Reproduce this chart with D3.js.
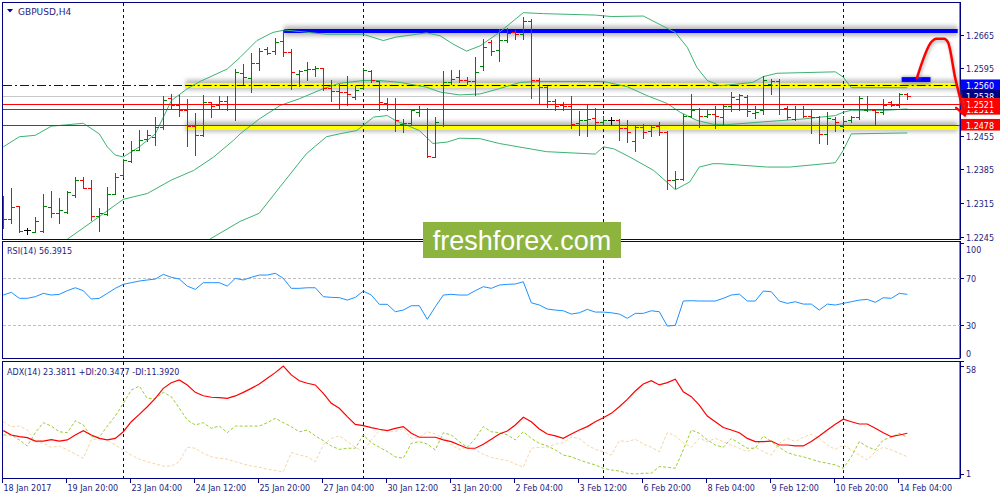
<!DOCTYPE html>
<html><head><meta charset="utf-8">
<script src="https://cdn.jsdelivr.net/npm/d3@7"></script>
<style>
html,body{margin:0;padding:0;background:#fff;}
svg{display:block;font-family:"DejaVu Sans",Verdana,sans-serif;}
</style></head><body>
<svg id="c" width="1000" height="500"></svg>
<script>
// ---------------- DATA ----------------
const symbolTitle = "GBPUSD,H4";
const rsiTitle = "RSI(14) 56.3915";
const adxTitle = "ADX(14) 23.3811 +DI:20.3477 -DI:11.3920";
const dateLabels = ["18 Jan 2017","19 Jan 20:00","23 Jan 04:00","24 Jan 12:00","25 Jan 20:00","27 Jan 04:00","30 Jan 12:00","31 Jan 20:00","2 Feb 04:00","3 Feb 12:00","6 Feb 20:00","8 Feb 04:00","9 Feb 12:00","10 Feb 20:00","14 Feb 04:00"];
const dateTickBars = [0,8,16,24,32,40,48,56,64,72,80,88,96,104,112];
const weekSeparators = [15,45,75,105];

const open = [1.2328,1.2282,1.2310,1.2259,1.2256,1.2257,1.2308,1.2295,1.2297,1.2332,
1.2363,1.2347,1.2288,1.2293,1.2335,1.2373,1.2403,1.2426,1.2449,1.2453,
1.2473,1.2534,1.2518,1.2508,1.2475,1.2456,1.2525,1.2518,1.2528,1.2511,
1.2585,1.2575,1.2606,1.2635,1.2631,1.2653,1.2630,1.2584,1.2591,1.2594,
1.2596,1.2555,1.2548,1.2546,1.2535,1.2555,1.2589,1.2568,1.2524,1.2522,
1.2479,1.2481,1.2504,1.2511,1.2411,1.2477,1.2566,1.2578,1.2572,1.2568,
1.2601,1.2649,1.2633,1.2654,1.2670,1.2666,1.2694,1.2570,1.2557,1.2527,
1.2518,1.2516,1.2481,1.2488,1.2493,1.2484,1.2488,1.2488,1.2472,1.2444,
1.2473,1.2466,1.2475,1.2463,1.2364,1.2366,1.2497,1.2511,1.2496,1.2500,
1.2495,1.2516,1.2532,1.2535,1.2502,1.2508,1.2563,1.2568,1.2513,1.2490,
1.2511,1.2497,1.2495,1.2459,1.2490,1.2475,1.2488,1.2494,1.2508,1.2509,
1.2504,1.2525,1.2518,1.2541];
const high = [1.2330,1.2346,1.2310,1.2264,1.2287,1.2333,1.2340,1.2325,1.2340,1.2370,
1.2370,1.2364,1.2304,1.2348,1.2377,1.2406,1.2444,1.2468,1.2468,1.2494,
1.2537,1.2542,1.2540,1.2531,1.2502,1.2540,1.2526,1.2537,1.2537,1.2594,
1.2604,1.2628,1.2637,1.2639,1.2658,1.2675,1.2635,1.2592,1.2609,1.2601,
1.2597,1.2571,1.2563,1.2580,1.2559,1.2597,1.2592,1.2568,1.2533,1.2534,
1.2490,1.2511,1.2516,1.2513,1.2494,1.2589,1.2591,1.2591,1.2577,1.2618,
1.2656,1.2654,1.2677,1.2679,1.2675,1.2702,1.2697,1.2575,1.2559,1.2532,
1.2525,1.2537,1.2506,1.2518,1.2513,1.2497,1.2494,1.2490,1.2487,1.2475,
1.2479,1.2477,1.2484,1.2466,1.2382,1.2501,1.2542,1.2513,1.2509,1.2516,
1.2520,1.2547,1.2542,1.2539,1.2516,1.2580,1.2573,1.2573,1.2516,1.2516,
1.2516,1.2508,1.2497,1.2504,1.2494,1.2497,1.2497,1.2537,1.2537,1.2511,
1.2531,1.2528,1.2544,1.2544];
const low = [1.2263,1.2274,1.2255,1.2250,1.2255,1.2255,1.2287,1.2274,1.2294,1.2327,
1.2346,1.2280,1.2258,1.2290,1.2333,1.2370,1.2401,1.2425,1.2444,1.2435,
1.2470,1.2513,1.2497,1.2433,1.2416,1.2454,1.2495,1.2510,1.2508,1.2488,
1.2563,1.2546,1.2591,1.2625,1.2625,1.2620,1.2553,1.2559,1.2571,1.2580,
1.2551,1.2528,1.2513,1.2520,1.2532,1.2553,1.2566,1.2508,1.2508,1.2465,
1.2463,1.2480,1.2497,1.2411,1.2410,1.2475,1.2563,1.2566,1.2563,1.2539,
1.2592,1.2622,1.2610,1.2651,1.2656,1.2656,1.2533,1.2523,1.2515,1.2508,
1.2509,1.2472,1.2456,1.2454,1.2470,1.2479,1.2480,1.2447,1.2442,1.2424,
1.2451,1.2454,1.2456,1.2344,1.2346,1.2363,1.2494,1.2473,1.2494,1.2472,
1.2477,1.2506,1.2509,1.2497,1.2492,1.2501,1.2541,1.2501,1.2490,1.2487,
1.2494,1.2461,1.2439,1.2437,1.2464,1.2473,1.2484,1.2490,1.2506,1.2477,
1.2501,1.2516,1.2515,1.2531];
const close = [1.2282,1.2308,1.2257,1.2259,1.2277,1.2310,1.2294,1.2301,1.2339,1.2363,
1.2347,1.2288,1.2294,1.2333,1.2370,1.2404,1.2425,1.2447,1.2456,1.2473,
1.2530,1.2518,1.2508,1.2475,1.2456,1.2525,1.2516,1.2528,1.2511,1.2587,
1.2577,1.2606,1.2632,1.2628,1.2651,1.2630,1.2587,1.2589,1.2594,1.2597,
1.2555,1.2548,1.2546,1.2541,1.2551,1.2591,1.2571,1.2525,1.2522,1.2487,
1.2481,1.2509,1.2511,1.2413,1.2484,1.2566,1.2573,1.2570,1.2568,1.2587,
1.2639,1.2632,1.2654,1.2668,1.2666,1.2694,1.2570,1.2557,1.2527,1.2516,
1.2516,1.2479,1.2488,1.2490,1.2484,1.2488,1.2488,1.2472,1.2463,1.2473,
1.2463,1.2473,1.2463,1.2364,1.2366,1.2497,1.2508,1.2497,1.2500,1.2497,
1.2516,1.2535,1.2539,1.2506,1.2504,1.2570,1.2568,1.2511,1.2494,1.2511,
1.2497,1.2495,1.2458,1.2493,1.2484,1.2486,1.2495,1.2534,1.2511,1.2504,
1.2520,1.2518,1.2541,1.2538];

// Bollinger bands: [bar index, price]
const bbUpper = [[0,1.2432],[2,1.2453],[4,1.2456],[6,1.2475],[10,1.2481],[12,1.2459],[13,1.2432],[14,1.2415],[15,1.2411],[17,1.2432],[19,1.2459],[21,1.2528],[23,1.2553],[24.6,1.2568],[28,1.2594],[29.6,1.2618],[31.7,1.2653],[33.7,1.2670],[35.2,1.2675],[40.4,1.2666],[45,1.2666],[47.5,1.2653],[49,1.2660],[52.9,1.2669],[54.6,1.2663],[56.2,1.2646],[57.9,1.2631],[59.6,1.2642],[62,1.2670],[65,1.2711],[67.5,1.2709],[74,1.2706],[76,1.2703],[80,1.2704],[82,1.2687],[84,1.2670],[85.5,1.2639],[86.7,1.2597],[88,1.2570],[89.6,1.2559],[93.7,1.2566],[95,1.2578],[96.7,1.2585],[104,1.2588],[105,1.2577],[106,1.2555],[113,1.2555]];
const bbMiddle = [[8,1.2240],[12,1.2287],[15,1.2323],[18,1.2335],[21,1.2363],[23.8,1.2383],[26.3,1.2411],[28.8,1.2446],[29.6,1.2459],[32,1.2490],[34.6,1.2518],[37,1.2532],[40,1.2553],[42,1.2564],[45,1.2570],[47,1.2570],[49.6,1.2566],[52.9,1.2556],[54.6,1.2546],[57,1.2540],[59.6,1.2542],[62,1.2553],[64.6,1.2566],[67,1.2568],[75,1.2568],[78,1.2557],[80.4,1.2539],[83,1.2522],[84.6,1.2504],[86.7,1.2487],[88.7,1.2479],[90.4,1.2478],[95,1.2484],[100,1.2490],[104,1.2497],[105,1.2504],[106,1.2508],[110.4,1.2508],[113,1.2511]];
const bbLower = [[25.8,1.2240],[29.6,1.2277],[32,1.2294],[34.6,1.2349],[37.9,1.2418],[40.4,1.2453],[42,1.2459],[44.2,1.2466],[45,1.2477],[46.3,1.2494],[48,1.2497],[49,1.2487],[52,1.2466],[53.7,1.2439],[55.5,1.2442],[57,1.2450],[59.6,1.2449],[62,1.2439],[67.9,1.2422],[74,1.2417],[75,1.2432],[76.3,1.2428],[78.3,1.2411],[81.3,1.2383],[84,1.2343],[85.8,1.2359],[87,1.2390],[88.7,1.2397],[89.6,1.2397],[95.5,1.2390],[98.3,1.2390],[104,1.2399],[105,1.2425],[106,1.2459],[113,1.2461]];

const rsi = [55.8,58.1,53,53,54.4,57.2,55.8,56.4,59.5,62,
59.5,52.4,53,57.2,61.5,64.9,66.3,67.7,68.6,69.4,
73.4,70.9,69.4,63.4,60.6,66.3,66.3,66.3,63.4,70,
68.6,70.9,72.8,72.8,74.3,70,61.5,61.5,62,62,
54.4,53.8,53.6,51.5,53.8,59.2,55.8,47.9,47.9,41.6,
43,46.7,46.7,35.1,45.8,55.8,56.4,55.8,55.8,59.5,
62.9,61.5,64.3,64.9,65.2,67.1,49.2,47.3,43.9,43,
42.4,39.6,40.7,43.6,41.3,41.3,40.7,39.6,36,40.2,
40.2,42.4,41.6,29.4,30,50.7,51,50.7,50.7,50.7,
53,55.8,56.6,50.7,50.7,59.2,58.6,50.7,48.7,50.1,
48.1,48.1,43,48.1,47.3,48.7,50.1,51.5,52.1,49.6,
53.5,53,57.2,56.4];
const adx = [23.9,21.6,20.7,20.2,18.4,18.4,19.1,18.4,19,21.6,
23.9,21.6,19.8,19,19.8,23.3,28.6,32.5,36.5,40.9,
46.2,49.2,50.6,48,44.1,42.3,41.5,41.3,40.9,42.2,
44.1,46.2,48.5,51.5,54.5,58,53.3,50.2,48.9,48,
43.6,38.3,35.7,31.3,27.2,26.5,25.5,24.6,23.9,25.1,
26,22.5,20.4,20.4,20.4,19,18.1,16.3,14.6,14.6,
16.7,19.3,22.1,23.7,26.9,30.9,28.6,24.8,22.1,21.1,
19.8,22.1,24.2,26,28.6,30.7,33,36.5,40.4,44.8,
48.5,50.2,48,49.2,51,44.4,41.8,37.4,31.6,28.6,
25.5,24.2,22.8,19.8,18.1,18.1,18.4,16.3,16.3,15.8,
15.8,18.1,21.1,24.2,27.2,29.9,28.6,27.4,27.4,25.1,
22.8,20.7,21.6,22.5];
const plusDI = [21.6,21.6,19,15.8,22.8,28.1,26.3,23.3,22.8,29.1,
26.9,20.7,20.4,26.3,31.6,38.3,45.3,47.4,40.9,40.9,
44.1,41.8,35.7,29.5,26.9,28.1,25.1,26.3,22.8,26.3,
26.3,26.3,26.3,28.1,30.4,28.1,26,23.3,24.2,21.1,
18.6,15.8,14,14.6,14.6,21.6,17.5,15.1,12.8,10.1,
9.3,17.2,18.1,16.8,13.7,22.8,21.6,18.1,15.1,19.8,
26,23.3,22.8,21.6,19,23.3,19.8,17.2,15.8,13.7,
11,10.1,8.4,7,5.8,4,3.1,2.6,1.4,1.0,
1.4,1.4,4.9,4.6,4,13.7,24.2,22.5,19,16.3,
15.1,19.8,17.2,14.6,14.6,21.1,18.1,15.1,12.3,11,
10.1,8.8,7.5,6.7,5.8,4,10.1,18.1,15.4,13.7,
19,20.4,22.5,20.4];
const minusDI = [28.6,26,26.3,24.2,18.1,17.2,15.1,15.8,13.7,11.6,
9.3,19,19.8,19,16.3,13.7,11,8.8,7.5,6.3,
5.2,5.2,7.5,15.1,14.6,11.9,10.1,9.3,8.8,7.5,
6.3,5.2,4.6,3.5,2.8,2.2,12.3,11,10.1,7.5,
16.3,19.8,21.1,18.1,15.1,12.8,19,23.9,23.9,23.3,
25.1,19.8,20.4,23.3,22.1,19.8,16.3,14,15.1,13.7,
11.4,9.8,8.8,8.1,6.3,4.6,14.6,15.1,15.1,16.8,
17.5,20.4,19.8,16.3,14,12.8,11,18.6,18.1,19.3,
16.8,15.1,12.8,22.8,21.1,17.5,15.1,19.8,18.1,19.8,
18.1,16.3,14.6,12.8,15.1,12.8,11,17.2,19.8,18.1,
20.4,22.1,19.8,16.3,14,16.3,13.7,11,8.4,12.8,
15.1,13.7,11.9,10.1];

const priceTicks = [1.2665,1.2595,1.2525,1.2455,1.2385,1.2315,1.2245];
const rsiTicks = [100,70,30,0];
const rsiLevels = [70,30];
const adxTicks = [58,1];

// drawn objects (bar index / price units)
const bidPrice = 1.2538;
const dashLevel = 1.2560;
const redLevels = [1.2521,1.2511,1.2478];
const yellowZones = [[22.8,119.3,1.2561],[22.8,119.3,1.2474]];
const blueZone = [35.1,119.3,1.2673];
const blueBox = [112.3,115.9,1.2577,1.2567];
const arrowPath = [[114.2,1.2575],[116.0,1.2650],[116.6,1.2657],[117.6,1.2657],[118.1,1.2649],[119.0,1.2574],[120.2,1.2498]];
const arrowHead = [[[119.1,1.2513],[120.2,1.2498]],[[120.2,1.2498],[120.5,1.2522]]];
const priceMarkers = [["1.2560",1.2560],["1.2538",1.2538],["1.2511",1.2511],["1.2521",1.2521],["1.2478",1.2478]];
const markerColors = ["#0000ff","#000080","#ff0000","#ff0000","#ff0000"];

// ---------------- DRAW ----------------
const NAVY = "#000080", TXT = "#1c1c80";
const svg = d3.select("#c");
const defs = svg.append("defs");
defs.append("clipPath").attr("id","clipMain").append("rect").attr("x",3).attr("y",3).attr("width",957).attr("height",236);
defs.append("clipPath").attr("id","clipRsi").append("rect").attr("x",3).attr("y",242).attr("width",957).attr("height",116);
defs.append("clipPath").attr("id","clipAdx").append("rect").attr("x",3).attr("y",362).attr("width",957).attr("height",116);
const f = defs.append("filter").attr("id","blur").attr("x","-5%").attr("y","-300%").attr("width","110%").attr("height","700%");
f.append("feGaussianBlur").attr("stdDeviation",2.2);
const f2 = defs.append("filter").attr("id","blur2").attr("x","-50%").attr("y","-50%").attr("width","200%").attr("height","200%");
f2.append("feGaussianBlur").attr("stdDeviation",1.5);

const xs = d3.scaleLinear().domain([0,113]).range([3.3,907.3]);
const colX = i => Math.floor(xs(i));
const yP = d3.scaleLinear().domain([1.2245,1.2665]).range([236.8,34.8]);
const yR = d3.scaleLinear().domain([0,100]).range([360.6,243.1]);
const yA = d3.scaleLinear().domain([1,58]).range([474,366]);

// panel frames
const panels = [[2,239],[241,358],[361,478]];
panels.forEach(([t,b])=>{
  svg.append("rect").attr("x",2.5).attr("y",t+0.5).attr("width",957.5).attr("height",b-t)
    .attr("fill","none").attr("stroke",NAVY).attr("stroke-width",1);
});

// ----- main panel -----
const gm = svg.append("g").attr("clip-path","url(#clipMain)");
gm.append("line").attr("x1",3).attr("x2",960).attr("y1",Math.round(yP(bidPrice))+0.5).attr("y2",Math.round(yP(bidPrice))+0.5)
  .attr("stroke","#c8c8c8");

// shadows & zones
yellowZones.forEach(([a,b,p])=>{
  gm.append("rect").attr("x",xs(a)).attr("width",xs(b)-xs(a)).attr("y",yP(p)-5).attr("height",10)
    .attr("fill","#808080").attr("opacity",0.55).attr("filter","url(#blur)");
});
gm.append("rect").attr("x",xs(blueZone[0])).attr("width",xs(blueZone[1])-xs(blueZone[0])).attr("y",yP(blueZone[2])-5).attr("height",10)
  .attr("fill","#808080").attr("opacity",0.55).attr("filter","url(#blur)");
yellowZones.forEach(([a,b,p])=>{
  gm.append("rect").attr("x",xs(a)).attr("width",xs(b)-xs(a)).attr("y",Math.round(yP(p))-2).attr("height",5).attr("fill","#ffff00");
});
gm.append("rect").attr("x",xs(blueZone[0])).attr("width",xs(blueZone[1])-xs(blueZone[0])).attr("y",Math.round(yP(blueZone[2]))-2).attr("height",4).attr("fill","#0000ff");

// dash-dot level
const yd = Math.round(yP(dashLevel))+0.5;
gm.append("line").attr("x1",3).attr("x2",xs(yellowZones[0][0])).attr("y1",yd).attr("y2",yd)
  .attr("stroke","#0000cd").attr("stroke-dasharray","9,3,2,3");
gm.append("line").attr("x1",xs(yellowZones[0][0])).attr("x2",xs(yellowZones[0][1])).attr("y1",yd).attr("y2",yd)
  .attr("stroke","#000").attr("stroke-dasharray","9,3,2,3");

// week separators
function separators(g,t,b){
  weekSeparators.forEach(i=>{
    g.append("line").attr("x1",colX(i)+0.5).attr("x2",colX(i)+0.5).attr("y1",t).attr("y2",b)
      .attr("stroke",NAVY).attr("stroke-dasharray","3,3");
  });
}
separators(gm,3,240);

// Bollinger
const bbLine = d3.line().x(d=>xs(d[0])).y(d=>yP(d[1]));
[bbUpper,bbMiddle,bbLower].forEach(s=>{
  gm.append("path").attr("d",bbLine(s)).attr("fill","none").attr("stroke","#3cb371").attr("stroke-width",1);
});

// bars
const bars = gm.append("g").attr("shape-rendering","crispEdges");
open.forEach((o,i)=>{
  const c = close[i];
  const color = c>o ? "#008000" : (c<o ? "#ff0000" : "#000000");
  const cx = colX(i);
  const yh = Math.round(yP(high[i])), yl = Math.round(yP(low[i]));
  const yo = Math.round(yP(o)), yc = Math.round(yP(c));
  bars.append("rect").attr("x",cx).attr("y",yh).attr("width",1).attr("height",Math.max(1,yl-yh+1)).attr("fill",color);
  bars.append("rect").attr("x",cx-3).attr("y",yo).attr("width",3).attr("height",1).attr("fill",color);
  bars.append("rect").attr("x",cx+1).attr("y",yc).attr("width",3).attr("height",1).attr("fill",color);
});

// red levels
redLevels.forEach(p=>{
  const yy = Math.round(yP(p))+0.5;
  gm.append("line").attr("x1",3).attr("x2",960).attr("y1",yy).attr("y2",yy).attr("stroke","#ff0000");
});

// blue box
gm.append("rect").attr("x",xs(blueBox[0])).attr("width",xs(blueBox[1])-xs(blueBox[0]))
  .attr("y",yP(blueBox[2])-1).attr("height",yP(blueBox[3])-yP(blueBox[2])+4).attr("fill","#808080").attr("opacity",0.5).attr("filter","url(#blur2)");
gm.append("rect").attr("x",xs(blueBox[0])).attr("width",xs(blueBox[1])-xs(blueBox[0]))
  .attr("y",yP(blueBox[2])).attr("height",yP(blueBox[3])-yP(blueBox[2])).attr("fill","#0000ff");

// right price axis
svg.append("line").attr("x1",960.5).attr("x2",960.5).attr("y1",2).attr("y2",240).attr("stroke",NAVY);
priceTicks.forEach(v=>{
  const yy = yP(v);
  svg.append("line").attr("x1",961).attr("x2",964).attr("y1",Math.round(yy)+0.5).attr("y2",Math.round(yy)+0.5).attr("stroke",NAVY);
  // labels hidden behind a price marker are not drawn (as in the reference)
  const covered = priceMarkers.some(([,m])=>Math.abs(yP(m)-yy)<8);
  if(!covered) svg.append("text").attr("x",966).attr("y",yy+4).attr("font-size",8).attr("fill",TXT).text(v.toFixed(4));
});
// markers: later ones partly cover earlier ones -> clip the covered labels to their visible part
const mBoxes = priceMarkers.map(([,v])=>[yP(v)-6, yP(v)+6]);
priceMarkers.forEach(([t,v],k)=>{
  const yy = yP(v);
  let top = mBoxes[k][0], bot = mBoxes[k][1];
  for(let j=k+1;j<priceMarkers.length;j++){
    const [t2,b2] = mBoxes[j];
    if(t2<bot && b2>top){ if(t2>yy) bot = Math.min(bot,t2); else top = Math.max(top,b2); }
  }
  const id = "mclip"+k;
  defs.append("clipPath").attr("id",id).append("rect").attr("x",961).attr("y",top).attr("width",39).attr("height",Math.max(0,bot-top));
  const g = svg.append("g").attr("clip-path",`url(#${id})`);
  g.append("rect").attr("x",961).attr("y",yy-6).attr("width",39).attr("height",12).attr("fill",markerColors[k]);
  g.append("text").attr("x",966).attr("y",yy+4).attr("font-size",8).attr("fill","#fff").text(t);
});

// arrow
const aLine = d3.line().x(d=>xs(d[0])).y(d=>yP(d[1])).curve(d3.curveMonotoneX);
svg.append("path").attr("d",aLine(arrowPath)).attr("fill","none").attr("stroke","#888").attr("stroke-width",3).attr("opacity",0.5)
  .attr("transform","translate(1,2)").attr("filter","url(#blur2)");
svg.append("path").attr("d",aLine(arrowPath)).attr("fill","none").attr("stroke","#ff0000").attr("stroke-width",2.5)
  .attr("stroke-linejoin","round").attr("stroke-linecap","round");
arrowHead.forEach(seg=>{
  svg.append("path").attr("d",d3.line().x(d=>xs(d[0])).y(d=>yP(d[1]))(seg)).attr("fill","none")
    .attr("stroke","#ff0000").attr("stroke-width",2.5).attr("stroke-linecap","round");
});

// title
svg.append("path").attr("d","M7,9 L13,9 L10,12.5 Z").attr("fill",NAVY);
svg.append("text").attr("x",18).attr("y",14.5).attr("font-size",9).attr("fill",TXT).text(symbolTitle);

// ----- RSI -----
const gr = svg.append("g").attr("clip-path","url(#clipRsi)");
rsiLevels.forEach(v=>{
  const yy = Math.round(yR(v))+0.5;
  gr.append("line").attr("x1",3).attr("x2",960).attr("y1",yy).attr("y2",yy).attr("stroke","#c0c0c0").attr("stroke-dasharray","3,2");
});
separators(gr,242,358);
gr.append("path").attr("d",d3.line().x((d,i)=>xs(i)).y(d=>yR(d))(rsi)).attr("fill","none").attr("stroke","#1e90ff").attr("stroke-width",1);
svg.append("line").attr("x1",960.5).attr("x2",960.5).attr("y1",241).attr("y2",358).attr("stroke",NAVY);
rsiTicks.forEach(v=>{
  const yy = Math.max(249, Math.min(353, yR(v)));
  svg.append("line").attr("x1",961).attr("x2",964).attr("y1",Math.round(yR(v))+0.5).attr("y2",Math.round(yR(v))+0.5).attr("stroke",NAVY);
  svg.append("text").attr("x",966).attr("y",yy+4).attr("font-size",8).attr("fill",TXT).text(v);
});
svg.append("text").attr("x",7).attr("y",254).attr("font-size",8).attr("fill",TXT).text(rsiTitle);

// ----- ADX -----
const ga = svg.append("g").attr("clip-path","url(#clipAdx)");
separators(ga,362,478);
const aL = d3.line().x((d,i)=>xs(i)).y(d=>yA(d));
ga.append("path").attr("d",aL(minusDI)).attr("fill","none").attr("stroke","#f5d6a4").attr("stroke-dasharray","3,2");
ga.append("path").attr("d",aL(plusDI)).attr("fill","none").attr("stroke","#9acd32").attr("stroke-dasharray","3,2");
ga.append("path").attr("d",aL(adx)).attr("fill","none").attr("stroke","#ff0000").attr("stroke-width",1.2);
svg.append("line").attr("x1",960.5).attr("x2",960.5).attr("y1",361).attr("y2",478).attr("stroke",NAVY);
adxTicks.forEach(v=>{
  const yy = Math.max(369, Math.min(473, yA(v)));
  svg.append("line").attr("x1",961).attr("x2",964).attr("y1",Math.round(yA(v))+0.5).attr("y2",Math.round(yA(v))+0.5).attr("stroke",NAVY);
  svg.append("text").attr("x",966).attr("y",yy+4).attr("font-size",8).attr("fill",TXT).text(v);
});
svg.append("text").attr("x",7).attr("y",375).attr("font-size",8).attr("fill",TXT).text(adxTitle);

// date axis
dateLabels.forEach((t,k)=>{
  const xx = colX(dateTickBars[k])-0.5;
  svg.append("line").attr("x1",xx).attr("x2",xx).attr("y1",478).attr("y2",483).attr("stroke",NAVY);
  svg.append("text").attr("x",xx+1).attr("y",491).attr("font-size",8).attr("fill",TXT).text(t);
});

// watermark
svg.append("rect").attr("x",423).attr("y",222).attr("width",198).attr("height",36).attr("fill","#8db43f");
svg.append("text").attr("x",522).attr("y",250).attr("text-anchor","middle").attr("font-family","'Liberation Sans',Arial,sans-serif")
  .attr("font-size",27).attr("fill","#fff").text("freshforex.com");
</script>
</body></html>
